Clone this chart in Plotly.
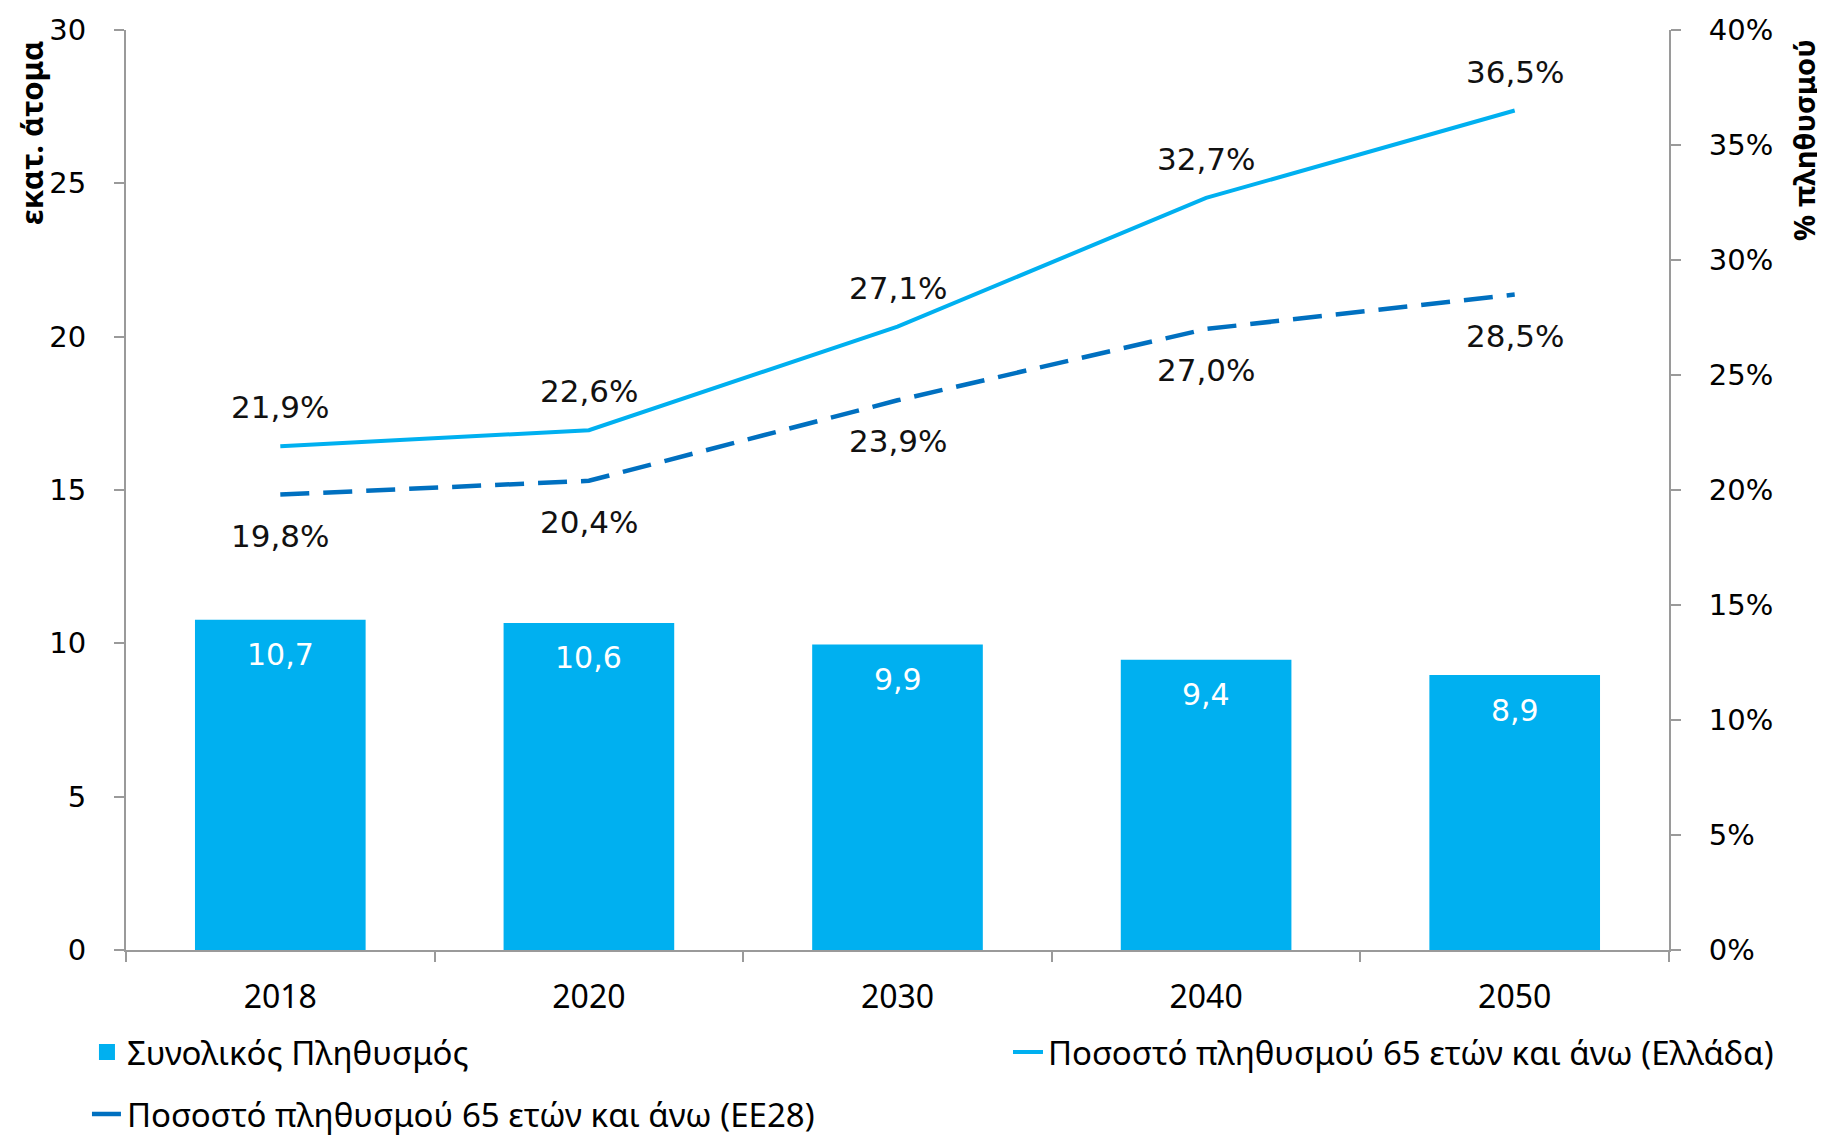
import plotly.graph_objects as go

# Data
years = ['2018', '2020', '2030', '2040', '2050']
population = [10.7, 10.6, 9.9, 9.4, 8.9]          # εκατ. άτομα
share_greece = [21.9, 22.6, 27.1, 32.7, 36.5]    # % 65+ Ελλάδα
share_eu28 = [19.8, 20.4, 23.9, 27.0, 28.5]      # % 65+ ΕΕ28

left_ticks = [0, 5, 10, 15, 20, 25, 30]
right_ticks = [0, 5, 10, 15, 20, 25, 30, 35, 40]

BAR_BLUE = '#00B0F0'
DARK_BLUE = '#0070C0'
AXIS_GREY = '#9a9a9a'
NUM_FONT = 'DejaVu Sans'
TEXT_FONT = 'Noto Sans'


def fmt(v, suffix=''):
    return f'{v:.1f}'.replace('.', ',') + suffix


fig = go.Figure()

fig.add_trace(go.Bar(x=years, y=population, name='Συνολικός Πληθυσμός',
                     marker_color=BAR_BLUE, marker_line=dict(color=BAR_BLUE, width=4),
                     width=0.54, legend='legend', hoverinfo='skip'))

fig.add_trace(go.Scatter(x=years, y=share_greece, yaxis='y2', mode='lines',
                         name='Ποσοστό πληθυσμού 65 ετών και άνω (Ελλάδα)',
                         line=dict(color=BAR_BLUE, width=4),
                         legend='legend2', hoverinfo='skip'))

fig.add_trace(go.Scatter(x=years, y=share_eu28, yaxis='y2', mode='lines',
                         name='Ποσοστό πληθυσμού 65 ετών και άνω (ΕΕ28)',
                         line=dict(color=DARK_BLUE, width=4.5, dash='29px,14px'),
                         legend='legend3', hoverinfo='skip'))

# data labels (annotations on a category axis take the category index)
annotations = []
for i, v in enumerate(population):
    annotations.append(dict(x=i, y=v, xref='x', yref='y', text=fmt(v),
                            showarrow=False, yshift=-33,
                            font=dict(family=NUM_FONT, size=30, color='white')))
for i, v in enumerate(share_greece):
    annotations.append(dict(x=i, y=v, xref='x', yref='y2', text=fmt(v, '%'),
                            showarrow=False, yshift=39,
                            font=dict(family=NUM_FONT, size=31, color='#111111')))
for i, v in enumerate(share_eu28):
    annotations.append(dict(x=i, y=v, xref='x', yref='y2', text=fmt(v, '%'),
                            showarrow=False, yshift=-41,
                            font=dict(family=NUM_FONT, size=31, color='#111111')))

# axis titles placed at the top, like the original
annotations.append(dict(x=-0.0616, y=0.888, xref='paper', yref='paper',
                        text='<b>εκατ. άτομα</b>', textangle=-90, showarrow=False,
                        xanchor='center', yanchor='middle',
                        font=dict(family=TEXT_FONT, size=31, color='black')))
annotations.append(dict(x=1.0868, y=0.8804, xref='paper', yref='paper',
                        text='<b>% πληθυσμού</b>', textangle=-90, showarrow=False,
                        xanchor='center', yanchor='middle',
                        font=dict(family=TEXT_FONT, size=29, color='black')))

legend_font = dict(family=TEXT_FONT, size=33, color='black')

# the page body has an 8px margin, so the figure is a little smaller
fig.update_layout(
    width=1817, height=1131,
    margin=dict(l=118, r=156, t=22, b=189, autoexpand=False),
    paper_bgcolor='white', plot_bgcolor='white',
    showlegend=True,
    annotations=annotations,
    legend=dict(x=-0.0253, y=-0.1109, xanchor='left', yanchor='middle',
                font=legend_font, bgcolor='rgba(0,0,0,0)'),
    legend2=dict(x=0.5716, y=-0.1109, xanchor='left', yanchor='middle',
                 font=legend_font, bgcolor='rgba(0,0,0,0)'),
    legend3=dict(x=-0.0253, y=-0.1783, xanchor='left', yanchor='middle',
                 font=legend_font, bgcolor='rgba(0,0,0,0)'),
    xaxis=dict(type='category', range=[-0.5, 4.5], tickson='boundaries',
               ticks='outside', ticklen=10, tickwidth=2, tickcolor=AXIS_GREY,
               showline=True, linecolor=AXIS_GREY, linewidth=2,
               showgrid=False, ticklabelstandoff=18, automargin=False,
               tickfont=dict(family=TEXT_FONT, size=32, color='black')),
    yaxis=dict(range=[0, 30], tickvals=left_ticks, ticks='outside',
               ticklen=10, tickwidth=2, tickcolor=AXIS_GREY,
               showline=True, linecolor=AXIS_GREY, linewidth=2,
               showgrid=False, zeroline=False, ticklabelstandoff=22,
               automargin=False,
               tickfont=dict(family=NUM_FONT, size=29, color='black')),
    yaxis2=dict(range=[0, 40], tickvals=right_ticks,
                ticktext=[f'{t}%' for t in right_ticks],
                overlaying='y', side='right', ticks='outside',
                ticklen=10, tickwidth=2, tickcolor=AXIS_GREY,
                showline=True, linecolor=AXIS_GREY, linewidth=2,
                showgrid=False, zeroline=False, ticklabelstandoff=22,
                automargin=False,
                tickfont=dict(family=NUM_FONT, size=29, color='black')),
)

fig.write_html('out.html')
